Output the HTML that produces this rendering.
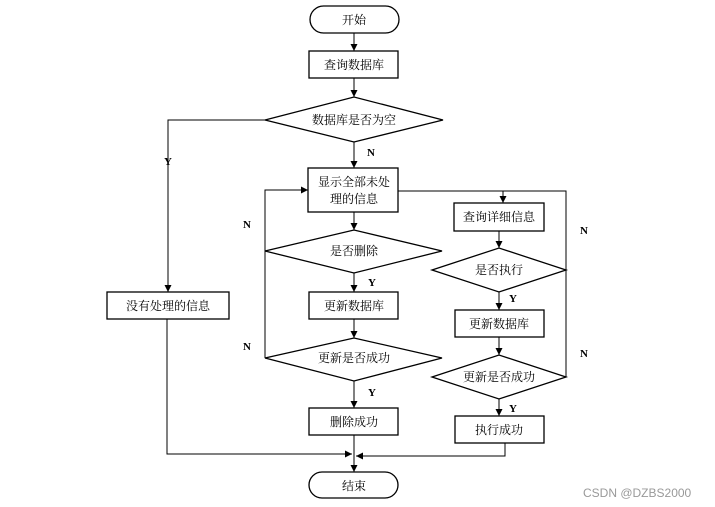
<!DOCTYPE html>
<html><head><meta charset="utf-8"><style>
html,body{margin:0;padding:0;background:#fff;}
svg{display:block;}
text{font-family:"Liberation Serif","Noto Serif CJK SC","Noto Sans CJK SC",serif;font-size:12px;fill:#000;}
.b{font-weight:bold;font-size:11px;}
.w{font-family:"Liberation Sans",sans-serif;fill:#999;font-size:12px;}
</style></head><body>
<svg width="715" height="507" viewBox="0 0 715 507" xmlns="http://www.w3.org/2000/svg">
<defs><marker id="a" markerWidth="8" markerHeight="8" refX="7" refY="4" orient="auto" markerUnits="userSpaceOnUse"><path d="M0,0.5 L7,4 L0,7.5z" fill="#000"/></marker></defs>
<g fill="none" stroke="#000" stroke-width="1.3">
<rect x="310" y="6" width="89" height="27" rx="13.5" fill="#fff"/>
<rect x="309" y="51" width="89" height="27"/>
<polygon points="265,120 354,97 443,120 354,142"/>
<rect x="308" y="168" width="90" height="44"/>
<polygon points="265,251 354,230 442,251 354,273"/>
<rect x="309" y="292" width="89" height="27"/>
<polygon points="265,358 354,338 442,358 354,381"/>
<rect x="309" y="408" width="89" height="27"/>
<rect x="309" y="472" width="89" height="26" rx="13" fill="#fff"/>
<rect x="107" y="292" width="122" height="27"/>
<rect x="454" y="203" width="90" height="28"/>
<polygon points="432,270 499,248 566,270 499,292"/>
<rect x="455" y="310" width="89" height="27"/>
<polygon points="432,377 499,355 566,377 499,399"/>
<rect x="455" y="416" width="89" height="27"/>
</g>
<g fill="none" stroke="#000" stroke-width="1" marker-end="url(#a)">
<path d="M354,33 V51"/>
<path d="M354,78 V97"/>
<path d="M354,142 V168"/>
<path d="M354,212 V230"/>
<path d="M354,273 V292"/>
<path d="M354,319 V338"/>
<path d="M354,381 V408"/>
<path d="M354,435 V472"/>
<path d="M265,120 H168 V292"/>
<path d="M167,319 V454 H352"/>
<path d="M505,443 V456 H356"/>
<path d="M265,251 V190 H308"/>
<path d="M265,358 V251" marker-end="none"/>
<path d="M398,191 H566 V377" marker-end="none"/>
<path d="M566,377 H566" marker-end="none"/>
<path d="M503,191 V203"/>
<path d="M499,231 V248"/>
<path d="M499,292 V310"/>
<path d="M499,337 V355"/>
<path d="M499,399 V416"/>
</g>
<g text-anchor="middle">
<text x="354" y="24">开始</text>
<text x="354" y="69">查询数据库</text>
<text x="354" y="124">数据库是否为空</text>
<text x="354" y="186">显示全部未处</text>
<text x="354" y="203">理的信息</text>
<text x="354" y="255">是否删除</text>
<text x="354" y="310">更新数据库</text>
<text x="354" y="362">更新是否成功</text>
<text x="354" y="426">删除成功</text>
<text x="354" y="490">结束</text>
<text x="168" y="310">没有处理的信息</text>
<text x="499" y="221">查询详细信息</text>
<text x="499" y="274">是否执行</text>
<text x="499" y="328">更新数据库</text>
<text x="499" y="381">更新是否成功</text>
<text x="499" y="434">执行成功</text>
</g>
<g class="b">
<text class="b" x="367" y="156">N</text>
<text class="b" x="164" y="165">Y</text>
<text class="b" x="243" y="228">N</text>
<text class="b" x="368" y="286">Y</text>
<text class="b" x="243" y="350">N</text>
<text class="b" x="368" y="396">Y</text>
<text class="b" x="580" y="234">N</text>
<text class="b" x="509" y="302">Y</text>
<text class="b" x="580" y="357">N</text>
<text class="b" x="509" y="412">Y</text>
</g>
<text class="w" x="583" y="497">CSDN @DZBS2000</text>
</svg>
</body></html>
